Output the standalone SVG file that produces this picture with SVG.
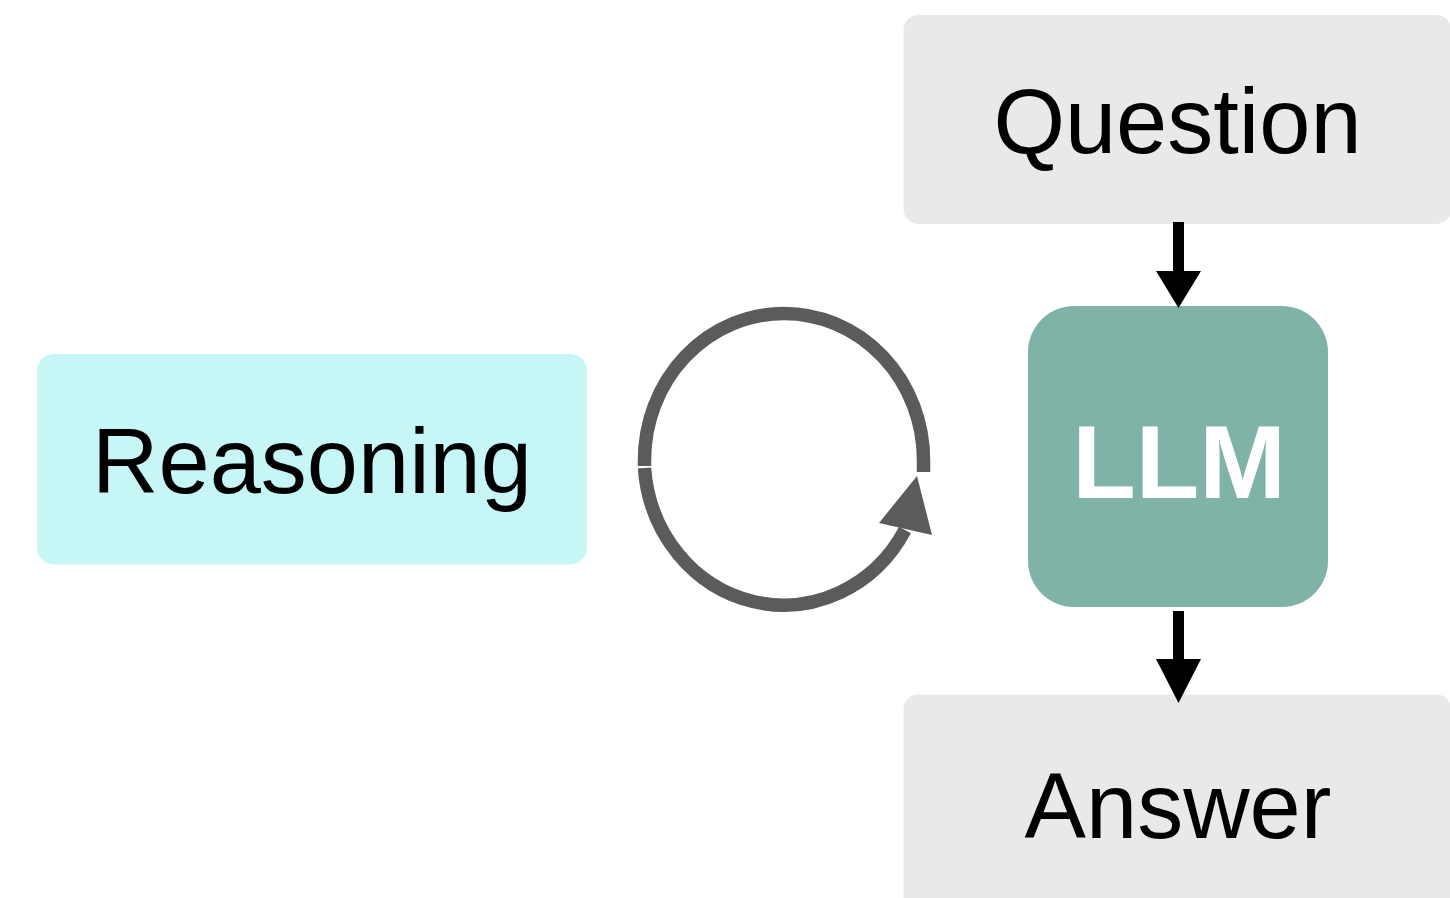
<svg xmlns="http://www.w3.org/2000/svg" width="1450" height="898" viewBox="0 0 1450 898">
<style>
.lbl{font-family:"Liberation Sans",Arial,sans-serif;font-size:92px;fill:#000;text-anchor:middle}
.llm{font-family:"Liberation Sans",Arial,sans-serif;font-size:104px;font-weight:bold;fill:#fff;text-anchor:middle}
.grey{fill:#e9e9e9}
.loop{fill:none;stroke:#5b5b5b;stroke-width:13.5}
.shaft{fill:#000}
</style>
<rect width="1450" height="898" fill="#fff"/>
<g id="question">
<rect class="grey" x="903.5" y="15" width="548" height="209" rx="15"/>
<text class="lbl" x="1177.5" y="152.5">Question</text>
</g>
<g id="reasoning">
<rect x="37" y="354" width="550" height="210.5" rx="17" fill="#c6f6f6"/>
<text class="lbl" x="312" y="493.3">Reasoning</text>
</g>
<g id="llm">
<rect x="1028" y="306" width="300" height="301" rx="46" fill="#80b3a8"/>
<text class="llm" x="1179" y="497.5">LLM</text>
</g>
<g id="answer">
<rect class="grey" x="903.5" y="694.5" width="548" height="220" rx="15"/>
<text class="lbl" x="1178" y="838">Answer</text>
</g>
<g id="connectors">
<rect class="shaft" x="1173" y="222" width="11" height="50"/>
<polygon class="shaft" points="1156,271 1201,271 1178.5,308"/>
<rect class="shaft" x="1173" y="611" width="11" height="49"/>
<polygon class="shaft" points="1156,659 1201,659 1178.5,703"/>
<path class="loop" d="M 644.5 466 L 644.5 460 A 139.5 146.5 0 0 1 923.5 460 L 923.5 472"/>
<path class="loop" d="M 644.5 468 A 139.5 148 0 0 0 905 530"/>
<polygon fill="#5b5b5b" points="917,476 932,535 879,523"/>
</g>
</svg>
